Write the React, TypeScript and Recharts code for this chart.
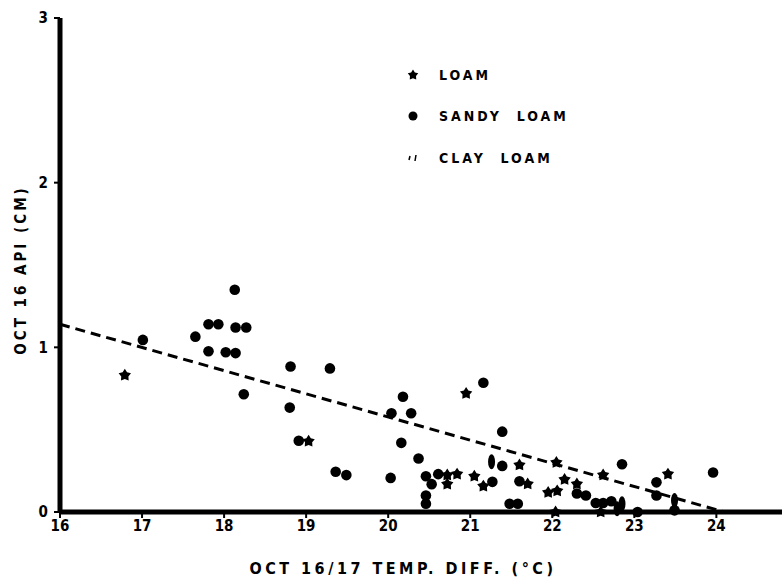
import React from "react";
import { ScatterChart, Scatter, XAxis, YAxis, ReferenceLine } from "recharts";

// values
const xTicks = [16, 17, 18, 19, 20, 21, 22, 23, 24];
const yTicks = [0, 1, 2, 3];

const sandyX = [18.13, 17.81, 17.93, 18.14, 18.27, 17.65, 17.01, 17.81, 18.02, 18.14, 18.81, 18.24, 18.8, 18.91, 19.29, 21.16, 20.18, 20.28, 20.04, 20.16, 20.37, 19.36, 19.49, 20.03, 20.46, 20.53, 20.46, 20.46, 20.61, 21.27, 21.39, 21.39, 21.6, 21.48, 21.58, 22.3, 22.41, 22.85, 22.53, 22.62, 22.72, 23.04, 23.27, 23.27, 23.49, 23.96];
const sandyY = [1.35, 1.14, 1.14, 1.12, 1.12, 1.065, 1.045, 0.976, 0.97, 0.965, 0.884, 0.715, 0.634, 0.433, 0.872, 0.785, 0.7, 0.6, 0.6, 0.42, 0.325, 0.244, 0.224, 0.207, 0.217, 0.169, 0.1, 0.05, 0.23, 0.183, 0.28, 0.488, 0.187, 0.05, 0.05, 0.112, 0.1, 0.29, 0.055, 0.055, 0.065, 0.0, 0.18, 0.1, 0.01, 0.24];

const loamX = [16.79, 19.03, 20.95, 20.72, 20.72, 20.84, 21.05, 21.16, 21.6, 21.7, 22.05, 22.15, 22.3, 21.95, 22.06, 22.04, 22.62, 22.59, 23.41];
const loamY = [0.83, 0.43, 0.72, 0.224, 0.169, 0.23, 0.217, 0.157, 0.285, 0.17, 0.3, 0.197, 0.17, 0.118, 0.128, 0.0, 0.224, 0.0, 0.23];

const clayX = [21.26, 22.85, 23.49, 22.79];
const clayY = [0.305, 0.05, 0.07, 0.02];

// dashed regression line end points
const fitX = [16, 24.1];
const fitY = [1.14, 0];

const zip = (xs: number[], ys: number[]) => xs.map((x, i) => ({ x, y: ys[i] }));
const sandy = zip(sandyX, sandyY);
const loam = zip(loamX, loamY);
const clay = zip(clayX, clayY);

const font = "'DejaVu Sans Condensed', 'DejaVu Sans', sans-serif";

const Dot = (p: any) => <circle cx={p.cx} cy={p.cy} r={5.3} fill="#000" />;

const starPoints = (cx: number, cy: number, r: number) => {
  const pts: string[] = [];
  for (let i = 0; i < 10; i++) {
    const a = -Math.PI / 2 + (i * Math.PI) / 5;
    const rr = i % 2 === 0 ? r : r * 0.58;
    pts.push(`${cx + rr * Math.cos(a)},${cy + rr * Math.sin(a)}`);
  }
  return pts.join(" ");
};
const Star = (p: any) => <polygon points={starPoints(p.cx, p.cy, 6.5)} fill="#000" />;

const Clay = (p: any) => <ellipse cx={p.cx} cy={p.cy} rx={3.5} ry={7.5} fill="#000" />;

const tickStyle = { fill: "#000", fontSize: 15, fontWeight: 700, fontFamily: font };

export default function App() {
  return (
    <div style={{ position: "absolute", left: 0, top: 0, width: 782, height: 588, background: "#fff" }}>
      <ScatterChart width={782} height={588} margin={{ top: 18, right: 0, bottom: 0, left: 0 }}>
        <XAxis
          type="number"
          dataKey="x"
          domain={[16, 24.8]}
          ticks={xTicks}
          allowDataOverflow
          height={76}
          axisLine={{ stroke: "#000", strokeWidth: 5 }}
          tickLine={{ stroke: "#000", strokeWidth: 2 }}
          tickSize={6}
          tick={tickStyle}
        />
        <YAxis
          type="number"
          dataKey="y"
          domain={[0, 3]}
          ticks={yTicks}
          width={60}
          axisLine={{ stroke: "#000", strokeWidth: 5 }}
          tickLine={{ stroke: "#000", strokeWidth: 2 }}
          tickSize={6}
          tickMargin={6}
          tick={tickStyle}
        />
        <ReferenceLine
          segment={[
            { x: fitX[0], y: fitY[0] },
            { x: fitX[1], y: fitY[1] },
          ]}
          stroke="#000"
          strokeWidth={3}
          strokeDasharray="10 6"
          ifOverflow="visible"
        />
        <Scatter name="SANDY LOAM" data={sandy} shape={Dot} isAnimationActive={false} />
        <Scatter name="LOAM" data={loam} shape={Star} isAnimationActive={false} />
        <Scatter name="CLAY LOAM" data={clay} shape={Clay} isAnimationActive={false} />
      </ScatterChart>

      <div style={{ position: "absolute", left: 405, top: 54, fontFamily: font, fontWeight: 700, fontSize: 14, letterSpacing: 3 }}>
        {[
          { label: "LOAM", sym: <polygon points={starPoints(8, 8, 5.5)} fill="#000" /> },
          { label: "SANDY  LOAM", sym: <circle cx={8} cy={8} r={4.5} fill="#000" /> },
          {
            label: "CLAY  LOAM",
            sym: (
              <g stroke="#000" strokeWidth={1.5}>
                <line x1={4} y1={10} x2={5} y2={6} />
                <line x1={10} y1={11} x2={11} y2={5} />
              </g>
            ),
          },
        ].map((it) => (
          <div key={it.label} style={{ display: "flex", alignItems: "center", height: 41.5 }}>
            <svg width={28} height={16}>{it.sym}</svg>
            <span style={{ whiteSpace: "pre", marginLeft: 6 }}>{it.label}</span>
          </div>
        ))}
      </div>

      <div
        style={{
          position: "absolute",
          left: 0,
          top: 559,
          width: 806,
          textAlign: "center",
          fontFamily: font,
          fontWeight: 700,
          fontSize: 16,
          letterSpacing: 3.5,
        }}
      >
        OCT 16/17 TEMP. DIFF. (°C)
      </div>
      <div
        style={{
          position: "absolute",
          left: 21,
          top: 270,
          transform: "translate(-50%, -50%) rotate(-90deg)",
          whiteSpace: "nowrap",
          fontFamily: font,
          fontWeight: 700,
          fontSize: 15,
          letterSpacing: 3,
        }}
      >
        OCT 16 API (CM)
      </div>
    </div>
  );
}
